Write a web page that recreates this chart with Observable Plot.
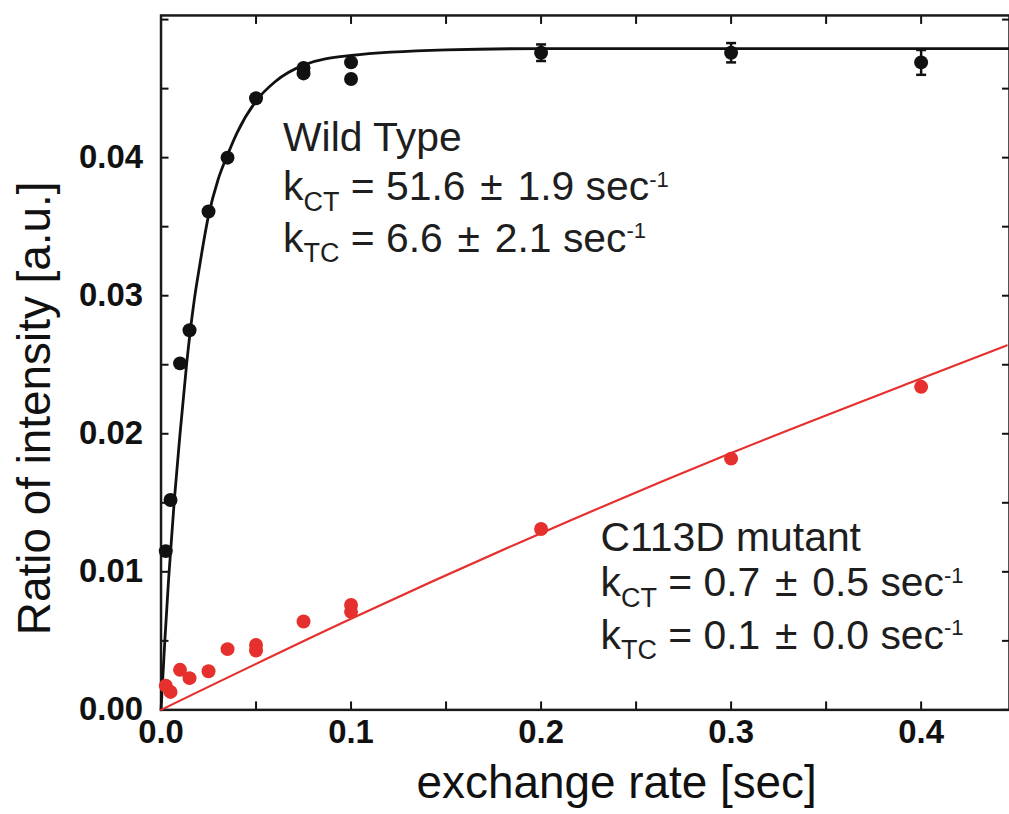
<!DOCTYPE html>
<html>
<head>
<meta charset="utf-8">
<script src="https://cdn.jsdelivr.net/npm/d3@7"></script>
<script src="https://cdn.jsdelivr.net/npm/@observablehq/plot@0.6"></script>
<style>
  html, body { margin: 0; padding: 0; background: #fff; overflow: hidden; }
</style>
</head>
<body>
<div id="chart"></div>
<script>
// Wild type: measured intensity ratio vs. exchange time
const wildX = [0.0025, 0.005, 0.01, 0.015, 0.025, 0.035, 0.05, 0.075, 0.075, 0.1, 0.1, 0.2, 0.3, 0.4];
const wildY = [0.0115, 0.0152, 0.0251, 0.0275, 0.0361, 0.0400, 0.0443, 0.0465, 0.0461, 0.0469, 0.0457, 0.0476, 0.0476, 0.0469];
// error bars on the long-time wild type points
const wildErrX = [0.2, 0.3, 0.4];
const wildErrY = [0.0476, 0.0476, 0.0469];
const wildErr  = [0.0006, 0.0007, 0.0009];

// C113D mutant
const mutX = [0.0025, 0.005, 0.01, 0.015, 0.025, 0.035, 0.05, 0.05, 0.075, 0.1, 0.1, 0.2, 0.3, 0.4];
const mutY = [0.00175, 0.0013, 0.0029, 0.0023, 0.0028, 0.0044, 0.0047, 0.0043, 0.0064, 0.0076, 0.0071, 0.0131, 0.0182, 0.0234];

// fitted curves
const wildFitX = [0, 0.002, 0.004, 0.007, 0.010, 0.0135, 0.0175, 0.020, 0.025, 0.030, 0.035, 0.040, 0.050, 0.060, 0.075, 0.100, 0.150, 0.200, 0.4465];
const wildFitY = [0, 0.0050, 0.0095, 0.0152, 0.0200, 0.0251, 0.0297, 0.0319, 0.0358, 0.0384, 0.0402, 0.0418, 0.0441, 0.0455, 0.0467, 0.0474, 0.0478, 0.0479, 0.0479];
const mutFitX = [0, 0.1, 0.2, 0.3, 0.4, 0.445];
const mutFitY = [0, 0.0066, 0.0128, 0.0186, 0.0240, 0.0264];

// axis ticks
const xTicks = [0, 0.05, 0.1, 0.15, 0.2, 0.25, 0.3, 0.35, 0.4];
const xTickLabels = [0, 0.1, 0.2, 0.3, 0.4];
const yTicks = [0, 0.005, 0.01, 0.015, 0.02, 0.025, 0.03, 0.035, 0.04, 0.045, 0.05];
const yTickLabels = [0, 0.01, 0.02, 0.03, 0.04];

// titles and notes (_{..} subscript, ^{..} superscript)
const xTitle = "exchange rate [sec]";
const yTitle = "Ratio of intensity [a.u.]";
const wildNote = ["Wild Type", "k_{CT} = 51.6 \u200a±\u200a 1.9 sec^{-1}", "k_{TC} = 6.6 \u200a±\u200a 2.1 sec^{-1}"];
const mutNote  = ["C113D mutant", "k_{CT} = 0.7 \u200a±\u200a 0.5 sec^{-1}", "k_{TC} = 0.1 \u200a±\u200a 0.0 sec^{-1}"];

const zip = (xs, ys) => xs.map((x, i) => ({x, y: ys[i]}));
const wildPts = zip(wildX, wildY);
const mutPts = zip(mutX, mutY);
const wildFit = zip(wildFitX, wildFitY);
const mutFit = zip(mutFitX, mutFitY);
const errRows = wildErrX.map((x, i) => ({x, y: wildErrY[i], e: wildErr[i]}));
const capRows = errRows.flatMap(d => [{x: d.x, y: d.y - d.e}, {x: d.x, y: d.y + d.e}]);

// horizontal bar used as an error-bar cap
const capSymbol = {
  draw(context, size) {
    const w = Math.sqrt(size / Math.PI);
    context.moveTo(-w, 0);
    context.lineTo(w, 0);
  }
};

const NOTE_SIZE = 41;
const BLACK = "#111";
const RED = "#e5302e";
const FONT = "'Liberation Sans', Arial, Helvetica, sans-serif";

// note placement: left edge and baselines in data units
const wildNoteX = 0.0642, wildNoteY = [0.0405, 0.0369, 0.0332];
const mutNoteX = 0.2313, mutNoteY = [0.01152, 0.00822, 0.00444];

const chart = Plot.plot({
  width: 1012,
  height: 814,
  marginLeft: 161,
  marginRight: 0,
  marginTop: 15,
  marginBottom: 102.5,
  style: {fontFamily: FONT, background: "#fff", color: BLACK},
  x: {domain: [0, 0.4465], label: null},
  y: {domain: [0, 0.0503], label: null},
  marks: [
    // inward ticks on all four sides
    Plot.axisX(xTicks, {anchor: "bottom", tickSize: -8, tickFormat: () => "", strokeWidth: 2, label: null}),
    Plot.axisX(xTicks, {anchor: "top", tickSize: -8, tickFormat: () => "", strokeWidth: 2, label: null}),
    Plot.axisY(yTicks, {anchor: "left", tickSize: -8, tickFormat: () => "", strokeWidth: 2, label: null}),
    Plot.axisY(yTicks, {anchor: "right", tickSize: -8, tickFormat: () => "", strokeWidth: 2, label: null}),
    // tick labels
    Plot.axisX(xTickLabels, {anchor: "bottom", tickSize: 0, tickPadding: 10, fontSize: 33, fontWeight: "bold",
      tickFormat: d => d.toFixed(1), label: null}),
    Plot.axisY(yTickLabels, {anchor: "left", tickSize: 0, tickPadding: 18, fontSize: 33, fontWeight: "bold",
      tickFormat: d => d.toFixed(2), label: null}),
    Plot.frame({stroke: "#1a1a1a", strokeWidth: 2.5}),

    // fitted curves
    Plot.line(wildFit, {x: "x", y: "y", curve: "monotone-x", stroke: BLACK, strokeWidth: 2.8}),
    Plot.line(mutFit, {x: "x", y: "y", curve: "monotone-x", stroke: RED, strokeWidth: 2.2}),

    // measurements
    Plot.dot(mutPts, {x: "x", y: "y", r: 7, fill: RED}),
    Plot.ruleX(errRows, {x: "x", y1: d => d.y - d.e, y2: d => d.y + d.e, stroke: BLACK, strokeWidth: 2.5}),
    Plot.dot(capRows, {x: "x", y: "y", r: 5, symbol: capSymbol, stroke: BLACK, strokeWidth: 2.5, fill: "none"}),
    Plot.dot(wildPts, {x: "x", y: "y", r: 7, fill: BLACK}),

    // notes
    Plot.text(wildNote, {x: () => wildNoteX, y: (d, i) => wildNoteY[i], text: d => d,
      textAnchor: "start", lineAnchor: "bottom", fontSize: NOTE_SIZE, fill: "#1e1e1e"}),
    Plot.text(mutNote, {x: () => mutNoteX, y: (d, i) => mutNoteY[i], text: d => d,
      textAnchor: "start", lineAnchor: "bottom", fontSize: NOTE_SIZE, fill: "#1e1e1e"}),

    // axis titles
    Plot.text([xTitle], {frameAnchor: "bottom", text: d => d, dx: 31.5, dy: 88.5, lineAnchor: "bottom",
      fontSize: 46, fill: BLACK}),
    Plot.text([yTitle], {frameAnchor: "left", text: d => d, rotate: -90, dx: -111, dy: 45.75,
      lineAnchor: "bottom", textAnchor: "middle", fontSize: 46, fill: BLACK})
  ]
});

// turn _{..} and ^{..} runs into shifted, smaller tspans
function richText(root, size) {
  const NS = "http://www.w3.org/2000/svg";
  root.querySelectorAll("text").forEach(t => {
    const s = t.textContent;
    if (!/[_^]\{/.test(s)) return;
    while (t.firstChild) t.removeChild(t.firstChild);
    let shift = 0;
    for (const m of s.matchAll(/([_^])\{([^}]*)\}|[^_^]+/g)) {
      const span = document.createElementNS(NS, "tspan");
      const target = m[1] === "_" ? size * 0.26 : m[1] === "^" ? -size * 0.33 : 0;
      if (target !== shift) span.setAttribute("dy", target - shift);
      shift = target;
      if (m[1]) {
        span.setAttribute("font-size", m[1] === "_" ? size * 0.66 : size * 0.54);
        span.textContent = m[2];
      } else {
        span.textContent = m[0];
      }
      t.appendChild(span);
    }
  });
}
richText(chart, NOTE_SIZE);

document.getElementById("chart").appendChild(chart);
</script>
</body>
</html>
